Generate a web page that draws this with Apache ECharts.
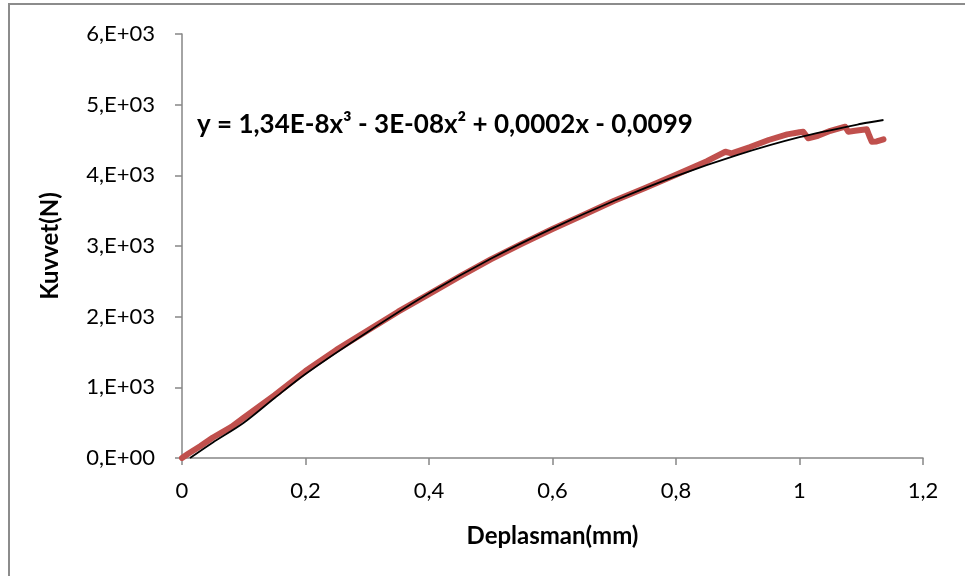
<!DOCTYPE html>
<html>
<head>
<meta charset="utf-8">
<script src="https://cdn.jsdelivr.net/npm/echarts@6/dist/echarts.min.js"></script>
<style>
  html, body { margin: 0; padding: 0; background: #fff; }
  #chart { width: 965px; height: 576px; }
</style>
</head>
<body>
<div id="chart"></div>
<script>
// deney verisi (Deplasman mm, Kuvvet N)
const olcumX = [0, 0.01, 0.03, 0.05, 0.08, 0.1, 0.15, 0.2, 0.25, 0.3, 0.35, 0.4, 0.45, 0.5, 0.55, 0.6, 0.65, 0.7, 0.75, 0.8, 0.85, 0.88, 0.89, 0.92, 0.95, 0.98, 1.0, 1.006, 1.014, 1.03, 1.05, 1.074, 1.079, 1.09, 1.109, 1.113, 1.117, 1.125, 1.136];
const olcumY = [0, 60, 170, 290, 440, 570, 890, 1230, 1530, 1800, 2070, 2320, 2570, 2810, 3030, 3240, 3440, 3640, 3820, 4010, 4200, 4334, 4312, 4400, 4500, 4580, 4610, 4617, 4524, 4560, 4630, 4688, 4617, 4630, 4651, 4560, 4476, 4480, 4510];

// polinom trend cizgisi
const trendX = [0.013, 0.05, 0.1, 0.15, 0.2, 0.3, 0.4, 0.5, 0.6, 0.7, 0.8, 0.9, 1.0, 1.1, 1.136];
const trendY = [0, 220, 500, 850, 1190, 1780, 2330, 2820, 3250, 3640, 3990, 4290, 4540, 4730, 4783];

const yTicks = ['0,E+00', '1,E+03', '2,E+03', '3,E+03', '4,E+03', '5,E+03', '6,E+03'];
const denklem = 'y = 1,34E-8x³ - 3E-08x² + 0,0002x - 0,0099';

const chart = echarts.init(document.getElementById('chart'));
const font = 'Lato, "Open Sans", sans-serif';

chart.setOption({
  animation: false,
  backgroundColor: '#fff',
  textStyle: { fontFamily: font },
  grid: { left: 182, right: 42, top: 34, bottom: 118 },
  graphic: [
    { type: 'rect', shape: { x: 9, y: 4, width: 1000, height: 700 }, style: { fill: 'none', stroke: '#8c8c8c', lineWidth: 2 }, silent: true },
    { type: 'text', left: 197, top: 112, style: { text: denklem, font: 'bold 26px ' + font, fill: '#000' } }
  ],
  xAxis: {
    type: 'value', min: 0, max: 1.2, interval: 0.2,
    name: 'Deplasman(mm)', nameLocation: 'middle', nameGap: 66, nameMoveOverlap: false,
    nameTextStyle: { fontSize: 24, fontWeight: 'bold', color: '#000' },
    splitLine: { show: false },
    axisLine: { lineStyle: { color: '#868686', width: 1.5 } },
    axisTick: { length: 7, lineStyle: { color: '#868686', width: 1.5 } },
    axisLabel: { fontSize: 22, color: '#000', margin: 22,
      formatter: v => String(Math.round(v * 10) / 10).replace('.', ',') }
  },
  yAxis: {
    type: 'value', min: 0, max: 6000, interval: 1000,
    name: 'Kuvvet(N)', nameLocation: 'middle', nameGap: 120, nameRotate: 90, nameMoveOverlap: false,
    nameTextStyle: { fontSize: 24, fontWeight: 'bold', color: '#000' },
    splitLine: { show: false },
    axisLine: { show: true, lineStyle: { color: '#868686', width: 1.5 } },
    axisTick: { show: true, length: 7, lineStyle: { color: '#868686', width: 1.5 } },
    axisLabel: { fontSize: 22, color: '#000', margin: 27,
      formatter: v => yTicks[Math.round(v / 1000)] }
  },
  series: [
    {
      name: 'Kuvvet', type: 'line', showSymbol: false,
      data: olcumX.map((x, i) => [x, olcumY[i]]),
      lineStyle: { color: '#C0504D', width: 6, cap: 'round', join: 'round' }
    },
    {
      name: 'Trend', type: 'line', showSymbol: false, smooth: 0.3,
      data: trendX.map((x, i) => [x, trendY[i]]),
      lineStyle: { color: '#000', width: 1.8 }
    }
  ]
});
</script>
</body>
</html>
